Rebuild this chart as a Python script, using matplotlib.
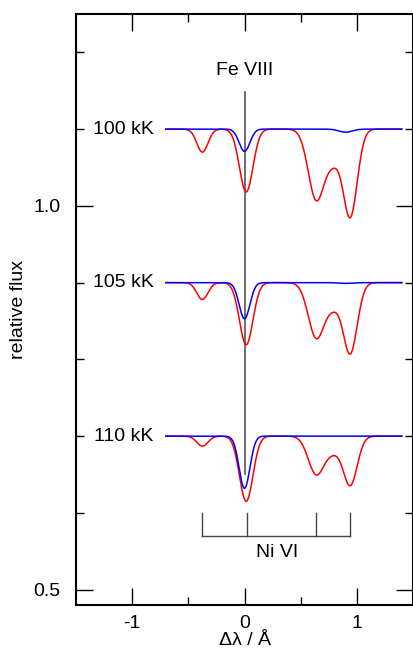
import numpy as np
import matplotlib.pyplot as plt

plt.rcParams["font.family"] = ["Liberation Sans", "DejaVu Sans"]

# model temperatures and continuum offsets
temps = ["100 kK", "105 kK", "110 kK"]
levels = [1.1, 0.9, 0.7]

# line centres (Angstrom, relative to Fe VIII); red = Fe + Ni, blue = Fe only
red_centers = [-0.375, 0.015, 0.64, 0.79, 0.94]
red_widths = [0.05, 0.06, 0.072, 0.06, 0.063]
red_depths = [
    [0.030, 0.082, 0.092, 0.034, 0.114],
    [0.022, 0.081, 0.072, 0.025, 0.092],
    [0.013, 0.085, 0.050, 0.016, 0.064],
]

blue_centers = [0.0, 0.9]
blue_widths = [0.048, 0.06]
blue_depths = [
    [0.029, 0.004],
    [0.047, 0.001],
    [0.068, 0.0],
]

ni_marks = [-0.375, 0.018, 0.634, 0.938]

x_min, x_max = -0.7, 1.4


def profile(x, centers, widths, depths):
    f = np.zeros_like(x)
    for c, w, d in zip(centers, widths, depths):
        f -= d * np.exp(-0.5 * ((x - c) / w) ** 2)
    return f


def main():
    fig = plt.figure(figsize=(4.14, 6.53), dpi=100)
    ax = fig.add_axes([0.1836, 0.0735, 0.8140, 0.9051])

    x = np.linspace(x_min, x_max, 800)

    ax.plot([0, 0], [0.651, 1.148], color="#555555", lw=1.2, zorder=1)
    ax.text(0, 1.177, "Fe VIII", ha="center", va="center", fontsize=14)

    for i, lab in enumerate(temps):
        base = levels[i]
        ax.plot(x, base + profile(x, red_centers, red_widths, red_depths[i]),
                color="red", lw=1.1, zorder=2)
        ax.plot(x, base + profile(x, blue_centers, blue_widths, blue_depths[i]),
                color="blue", lw=1.1, zorder=3)
        ax.text(-0.81, base, lab, ha="right", va="center", fontsize=14)

    # Ni VI line identification
    ax.plot([ni_marks[0], ni_marks[-1]], [0.570, 0.570], color="#444444", lw=1.0)
    for m in ni_marks:
        ax.plot([m, m], [0.570, 0.600], color="#444444", lw=1.0)
    ax.text(0.29, 0.549, "Ni VI", ha="center", va="center", fontsize=14)

    ax.set_xlim(-1.5, 1.5)
    ax.set_ylim(0.48, 1.25)
    ax.set_xticks([-1, 0, 1])
    ax.set_xticklabels(["-1", "0", "1"])
    ax.set_xticks([-0.5, 0.5], minor=True)
    ax.set_yticks([0.5, 1.0])
    ax.set_yticklabels(["0.5", "1.0"])
    ax.set_yticks([0.6, 0.7, 0.8, 0.9, 1.1, 1.2], minor=True)

    ax.tick_params(which="both", direction="in", top=True, right=True,
                   labelsize=14, width=1.0)
    ax.tick_params(axis="y", pad=11)
    ax.tick_params(axis="x", pad=7)
    ax.tick_params(which="major", length=12)
    ax.tick_params(which="minor", length=6)
    for s in ax.spines.values():
        s.set_linewidth(1.5)

    ax.set_xlabel("Δλ / Å", fontsize=14)
    ax.set_ylabel("relative flux", fontsize=14)
    ax.yaxis.set_label_coords(-0.145, 0.5)
    ax.xaxis.set_label_coords(0.5, -0.045)

    fig.savefig("out.png", dpi=100)


if __name__ == "__main__":
    main()
